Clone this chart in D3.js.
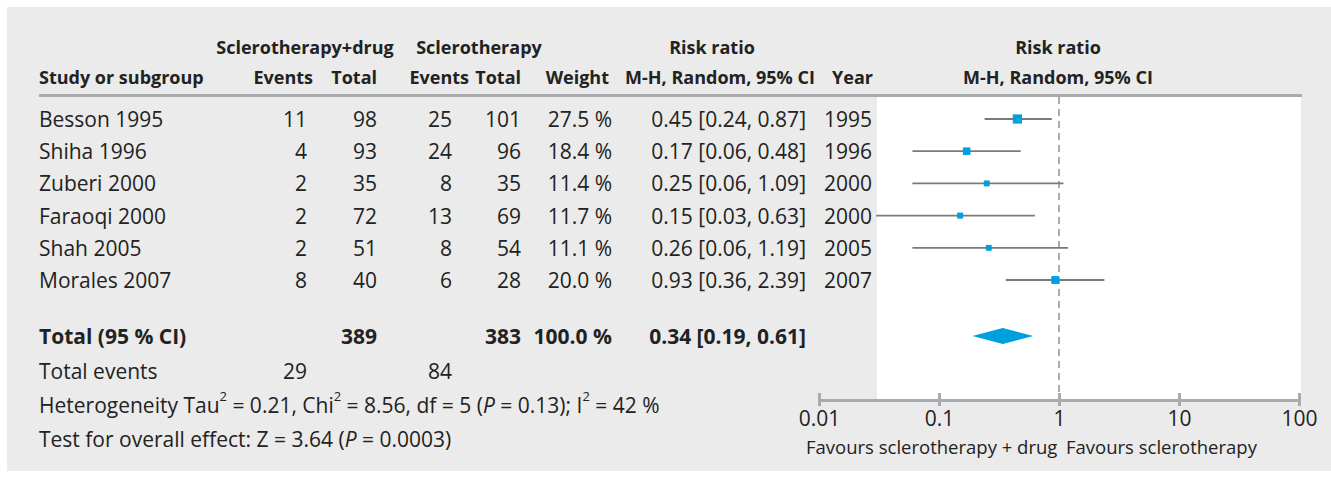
<!DOCTYPE html>
<html lang="en">
<head>
<meta charset="utf-8" />
<title>Forest plot</title>
<script src="https://cdn.jsdelivr.net/npm/d3@7"></script>
<style>
  body { margin: 0; background: #fff; }
  text { font-family: "Open Sans", sans-serif; fill: #222; }
  .hd { font-weight: bold; font-size: 18px; }
  .bd { font-size: 21px; }
  .fv { font-size: 18.5px; }
</style>
</head>
<body>
<svg id="canvas" width="1331" height="481"></svg>
<script>
var studies = ["Besson 1995", "Shiha 1996", "Zuberi 2000", "Faraoqi 2000", "Shah 2005", "Morales 2007"];
var events1 = [11, 4, 2, 2, 2, 8];
var total1 = [98, 93, 35, 72, 51, 40];
var events2 = [25, 24, 8, 13, 8, 6];
var total2 = [101, 96, 35, 69, 54, 28];
var weights = [27.5, 18.4, 11.4, 11.7, 11.1, 20.0];
var rr = [0.45, 0.17, 0.25, 0.15, 0.26, 0.93];
var lower = [0.24, 0.06, 0.06, 0.03, 0.06, 0.36];
var upper = [0.87, 0.48, 1.09, 0.63, 1.19, 2.39];
var years = [1995, 1996, 2000, 2000, 2005, 2007];
var pooled = { rr: 0.34, lo: 0.19, hi: 0.61, n1: 389, n2: 383, e1: 29, e2: 84 };
var ticks = [0.01, 0.1, 1, 10, 100];

var svg = d3.select("#canvas");
var blue = "#009fdf";

// panel and white plot area
svg.append("rect").attr("x", 7).attr("y", 7).attr("width", 1324).attr("height", 464).attr("fill", "#eaebea");

var x = d3.scaleLog().domain([0.01, 100]).range([819, 1299]);
var y = d3.scaleLinear().domain([0, 5]).range([119, 280]);

svg.append("rect").attr("x", 877).attr("y", 97).attr("width", 424).attr("height", 303).attr("fill", "#fff");
svg.append("line").attr("x1", 39).attr("x2", 1302).attr("y1", 95.5).attr("y2", 95.5)
    .attr("stroke", "#a9abad").attr("stroke-width", 3);

function txt(cls, px, py, s, anchor, g) {
    return (g || svg).append("text").attr("class", cls).attr("x", px).attr("y", py)
        .attr("dominant-baseline", "central").attr("text-anchor", anchor || "start").text(s);
}

// headers
txt("hd", 305, 47, "Sclerotherapy+drug", "middle");
txt("hd", 479, 47, "Sclerotherapy", "middle");
txt("hd", 712, 47, "Risk ratio", "middle");
txt("hd", 1058, 47, "Risk ratio", "middle");
txt("hd", 39, 77, "Study or subgroup");
txt("hd", 313, 77, "Events", "end");
txt("hd", 377, 77, "Total", "end");
txt("hd", 469, 77, "Events", "end");
txt("hd", 521, 77, "Total", "end");
txt("hd", 609, 77, "Weight", "end");
txt("hd", 720, 77, "M-H, Random, 95% CI", "middle");
txt("hd", 873, 77, "Year", "end");
txt("hd", 1058, 77, "M-H, Random, 95% CI", "middle");

var fmt = d3.format(".2f");
studies.forEach(function (s, i) {
    var yy = y(i);
    txt("bd", 39, yy, s);
    txt("bd", 307, yy, events1[i], "end");
    txt("bd", 377, yy, total1[i], "end");
    txt("bd", 452, yy, events2[i], "end");
    txt("bd", 521, yy, total2[i], "end");
    txt("bd", 612, yy, weights[i].toFixed(1) + " %", "end");
    txt("bd", 806, yy, fmt(rr[i]) + " [" + fmt(lower[i]) + ", " + fmt(upper[i]) + "]", "end");
    txt("bd", 824, yy, years[i]);
});

var yTot = 336;
txt("bd", 39, yTot, "Total (95 % CI)").attr("font-weight", "bold");
txt("bd", 377, yTot, pooled.n1, "end").attr("font-weight", "bold");
txt("bd", 521, yTot, pooled.n2, "end").attr("font-weight", "bold");
txt("bd", 612, yTot, "100.0 %", "end").attr("font-weight", "bold");
txt("bd", 806, yTot, fmt(pooled.rr) + " [" + fmt(pooled.lo) + ", " + fmt(pooled.hi) + "]", "end").attr("font-weight", "bold");

txt("bd", 39, 371, "Total events");
txt("bd", 307, 371, pooled.e1, "end");
txt("bd", 452, 371, pooled.e2, "end");

var het = txt("bd", 39, 405, "Heterogeneity Tau");
het.append("tspan").attr("baseline-shift", "super").attr("font-size", 13).text("2");
het.append("tspan").attr("baseline-shift", "0").text(" = 0.21, Chi");
het.append("tspan").attr("baseline-shift", "super").attr("font-size", 13).text("2");
het.append("tspan").attr("baseline-shift", "0").text(" = 8.56, df = 5 (");
het.append("tspan").attr("font-style", "italic").text("P");
het.append("tspan").text(" = 0.13); I");
het.append("tspan").attr("baseline-shift", "super").attr("font-size", 13).text("2");
het.append("tspan").attr("baseline-shift", "0").text(" = 42 %");

var tst = txt("bd", 39, 439, "Test for overall effect: Z = 3.64 (");
tst.append("tspan").attr("font-style", "italic").text("P");
tst.append("tspan").text(" = 0.0003)");

// null line
svg.append("line").attr("x1", x(1)).attr("x2", x(1)).attr("y1", 97).attr("y2", 400)
    .attr("stroke", "#a9abad").attr("stroke-width", 2).attr("stroke-dasharray", "7,5");

// study CIs and boxes
var g = svg.append("g");
g.selectAll("line.ci").data(studies).enter().append("line").attr("class", "ci")
    .attr("x1", function (d, i) { return x(lower[i]); })
    .attr("x2", function (d, i) { return x(upper[i]); })
    .attr("y1", function (d, i) { return y(i); })
    .attr("y2", function (d, i) { return y(i); })
    .attr("stroke", "#7a7a7a").attr("stroke-width", 1.8);
g.selectAll("rect.box").data(studies).enter().append("rect").attr("class", "box")
    .attr("width", function (d, i) { return 1.75 * Math.sqrt(weights[i]); })
    .attr("height", function (d, i) { return 1.75 * Math.sqrt(weights[i]); })
    .attr("x", function (d, i) { return x(rr[i]) - 0.875 * Math.sqrt(weights[i]); })
    .attr("y", function (d, i) { return y(i) - 0.875 * Math.sqrt(weights[i]); })
    .attr("fill", blue);

// pooled diamond
g.append("path").attr("fill", blue)
    .attr("d", "M" + x(pooled.lo) + "," + yTot + "L" + x(pooled.rr) + "," + (yTot - 8) +
        "L" + x(pooled.hi) + "," + yTot + "L" + x(pooled.rr) + "," + (yTot + 8) + "Z");

// axis
var axis = svg.append("g").attr("transform", "translate(0,400)")
    .call(d3.axisBottom(x).tickValues(ticks).tickFormat(d3.format("~g")).tickSize(0));
axis.select(".domain").attr("stroke", "#a9abad").attr("stroke-width", 3);
axis.selectAll(".tick text").attr("class", "bd").attr("font-size", null).attr("font-family", null)
    .attr("y", 18).attr("dy", null).attr("dominant-baseline", "central");
axis.selectAll(".tick").append("line").attr("y1", -7).attr("y2", 6)
    .attr("stroke", "#a9abad").attr("stroke-width", 3);

txt("fv", 806, 446, "Favours sclerotherapy + drug");
txt("fv", 1066, 446, "Favours sclerotherapy");
</script>
</body>
</html>
